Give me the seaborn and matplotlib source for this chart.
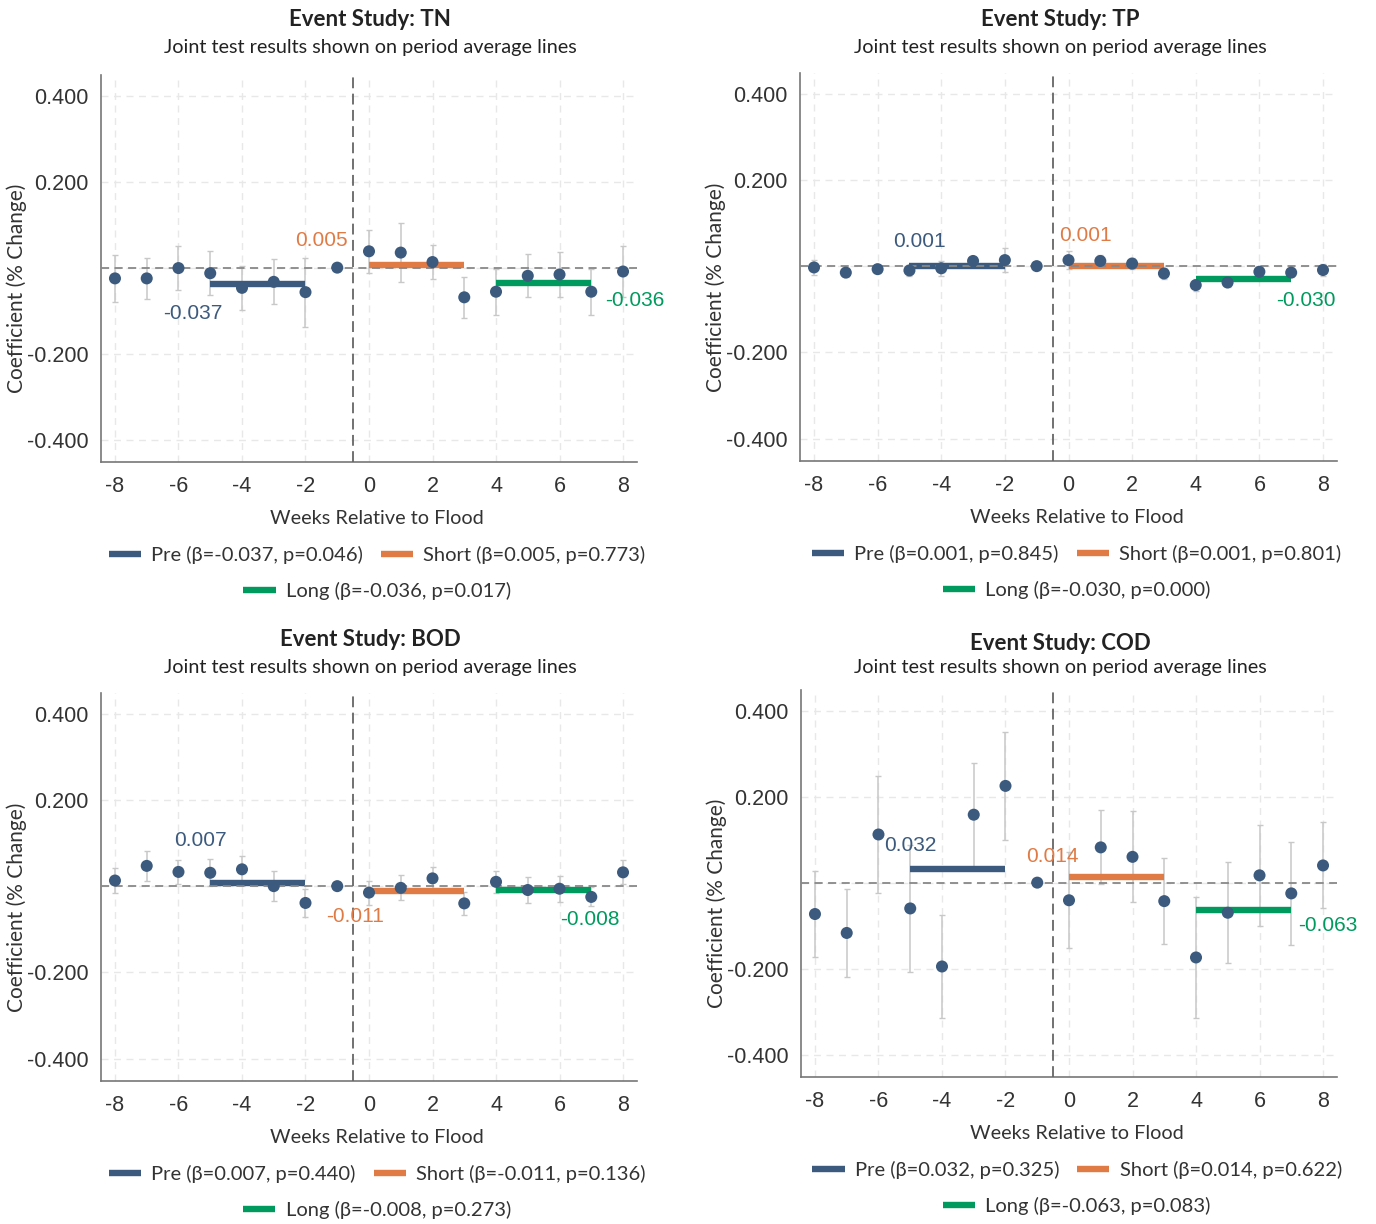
import matplotlib
matplotlib.use('Agg')
import numpy as np
import pandas as pd
import matplotlib.pyplot as plt
from matplotlib.lines import Line2D
import seaborn as sns

sns.set_style('white')
plt.rcParams['font.family'] = ['Lato', 'DejaVu Sans']
plt.rcParams['axes.unicode_minus'] = False

# ---- data ----
weeks = list(range(-8, 9))

tn_coef = [-0.025, -0.025, -0.001, -0.013, -0.047, -0.033, -0.057, 0.0, 0.038, 0.035, 0.013, -0.069, -0.056, -0.019, -0.016, -0.056, -0.009]
tn_err = [0.054, 0.047, 0.052, 0.051, 0.051, 0.052, 0.080, np.nan, 0.050, 0.069, 0.040, 0.047, 0.054, 0.050, 0.052, 0.054, 0.060]

tp_coef = [-0.003, -0.015, -0.007, -0.010, -0.005, 0.012, 0.014, 0.0, 0.014, 0.012, 0.006, -0.017, -0.044, -0.038, -0.013, -0.015, -0.009]
tp_err = [0.018, 0.010, 0.010, 0.012, 0.018, 0.010, 0.028, np.nan, 0.020, 0.014, 0.012, 0.012, 0.014, 0.010, 0.010, 0.010, 0.014]

bod_coef = [0.013, 0.047, 0.033, 0.031, 0.039, 0.000, -0.039, 0.0, -0.015, -0.004, 0.018, -0.040, 0.010, -0.009, -0.006, -0.025, 0.032]
bod_err = [0.030, 0.035, 0.028, 0.031, 0.031, 0.035, 0.032, np.nan, 0.028, 0.029, 0.027, 0.026, 0.025, 0.030, 0.030, 0.022, 0.028]

cod_coef = [-0.073, -0.117, 0.112, -0.060, -0.195, 0.158, 0.225, 0.0, -0.041, 0.082, 0.060, -0.043, -0.174, -0.070, 0.017, -0.025, 0.040]
cod_err = [0.101, 0.103, 0.137, 0.147, 0.120, 0.121, 0.125, np.nan, 0.112, 0.086, 0.106, 0.100, 0.140, 0.118, 0.117, 0.119, 0.100]

pollutants = ['TN', 'TP', 'BOD', 'COD']
coefs = [tn_coef, tp_coef, bod_coef, cod_coef]
errs = [tn_err, tp_err, bod_err, cod_err]

periods = ['Pre', 'Short', 'Long']
period_start = [-5, 0, 4]
period_end = [-2, 3, 7]

betas = [[-0.037, 0.005, -0.036],
         [0.001, 0.001, -0.030],
         [0.007, -0.011, -0.008],
         [0.032, 0.014, -0.063]]
pvals = [[0.046, 0.773, 0.017],
         [0.845, 0.801, 0.000],
         [0.440, 0.136, 0.273],
         [0.325, 0.622, 0.083]]

# where the beta labels sit (data coords)
label_x = [[-5.54, -1.51, 8.38], [-4.67, 0.52, 7.47], [-5.32, -0.44, 6.96], [-4.99, -0.51, 8.14]]
label_y = [[-0.106, 0.064, -0.076], [0.056, 0.070, -0.079], [0.106, -0.071, -0.078], [0.086, 0.060, -0.100]]

navy = '#3b5a7d'
orange = '#e07b45'
green = '#009a5e'
period_colors = [navy, orange, green]
text_col = '#333333'

W, H = 1376, 1224
fig = plt.figure(figsize=(W / 100, H / 100), dpi=100)

# axes boxes in pixels: left, top, right, bottom
boxes = [(101, 75, 637, 462), (800, 73, 1337, 461), (101, 693, 637, 1081), (801, 690, 1337, 1077)]
title_pos = [(370, 20, 48), (1060, 19, 48), (370, 640, 668), (1060, 643, 668)]

for i, name in enumerate(pollutants):
    l, t, r, b = boxes[i]
    ax = fig.add_axes([l / W, 1 - b / H, (r - l) / W, (b - t) / H])

    df = pd.DataFrame({'week': weeks, 'coef': coefs[i], 'err': errs[i]})

    ax.errorbar(df['week'], df['coef'], yerr=df['err'], fmt='none', ecolor='#c8c8c8',
                elinewidth=1.1, capsize=2, capthick=1, zorder=2)

    for k in range(3):
        ax.plot([period_start[k], period_end[k]], [betas[i][k]] * 2, color=period_colors[k],
                lw=4.6, solid_capstyle='butt', zorder=3)
        ax.text(label_x[i][k], label_y[i][k], f'{betas[i][k]:.3f}', color=period_colors[k],
                fontsize=15, family='Liberation Sans', ha='center', va='center', zorder=6)

    ax.axhline(0, color='#888888', lw=1.3, ls=(0, (4.5, 3)), zorder=3.5)
    ax.axvline(-0.5, color='#666666', lw=1.3, ls=(0, (6, 3)), zorder=3.5)

    sns.scatterplot(data=df, x='week', y='coef', ax=ax, color=navy, s=75,
                    edgecolor='none', zorder=5, legend=False)

    ax.set_xlim(-8.44, 8.44)
    ax.set_ylim(-0.452, 0.448)
    ax.set_xticks(range(-8, 9, 2))
    ax.set_yticks([-0.4, -0.2, 0, 0.2, 0.4], ['-0.400', '-0.200', '', '0.200', '0.400'])
    ax.grid(True, color='#e8e8e8', ls=(0, (5, 4)), lw=1)
    ax.set_axisbelow(True)
    for s in ['top', 'right']:
        ax.spines[s].set_visible(False)
    for s in ['left', 'bottom']:
        ax.spines[s].set_color('#777777')
        ax.spines[s].set_linewidth(1.2)
    ax.tick_params(axis='both', length=4, width=1, color='#777777', labelsize=15.5,
                   labelcolor=text_col, labelfontfamily='Liberation Sans')
    ax.tick_params(axis='x', pad=6)
    ax.tick_params(axis='y', pad=5)

    ax.set_xlabel('Weeks Relative to Flood', fontsize=14.3, color=text_col)
    ax.xaxis.set_label_coords(0.515, -0.124)
    ax.set_ylabel('Coefficient (% Change)', fontsize=15, color=text_col)
    ax.yaxis.set_label_coords(-0.138, 0.448)
    ax.xaxis.label.set_verticalalignment('top')

    tx, ty, sy = title_pos[i]
    fig.text(tx / W, 1 - ty / H, f'Event Study: {name}', ha='center', va='center',
             fontsize=16, fontweight='bold', color='#222222')
    fig.text(tx / W, 1 - sy / H, 'Joint test results shown on period average lines',
             ha='center', va='center', fontsize=14.3, color='#222222')

    labs = [f'{periods[k]} (β={betas[i][k]:.3f}, p={pvals[i][k]:.3f})' for k in range(3)]
    hands = [Line2D([], [], color=c, lw=4.6, solid_capstyle='butt') for c in period_colors]
    prop = {'family': ['Lato', 'DejaVu Sans'], 'size': 14.5}
    leg1 = ax.legend(hands[:2], labs[:2], loc='center', bbox_to_anchor=(0.515, -0.240), ncol=2,
                     frameon=False, prop=prop, handlelength=1.6, handletextpad=0.5,
                     columnspacing=0.9, labelcolor=text_col)
    ax.add_artist(leg1)
    ax.legend(hands[2:], labs[2:], loc='center', bbox_to_anchor=(0.515, -0.333),
              frameon=False, prop=prop, handlelength=1.6, handletextpad=0.5, labelcolor=text_col)

fig.savefig('out.png', dpi=100)
